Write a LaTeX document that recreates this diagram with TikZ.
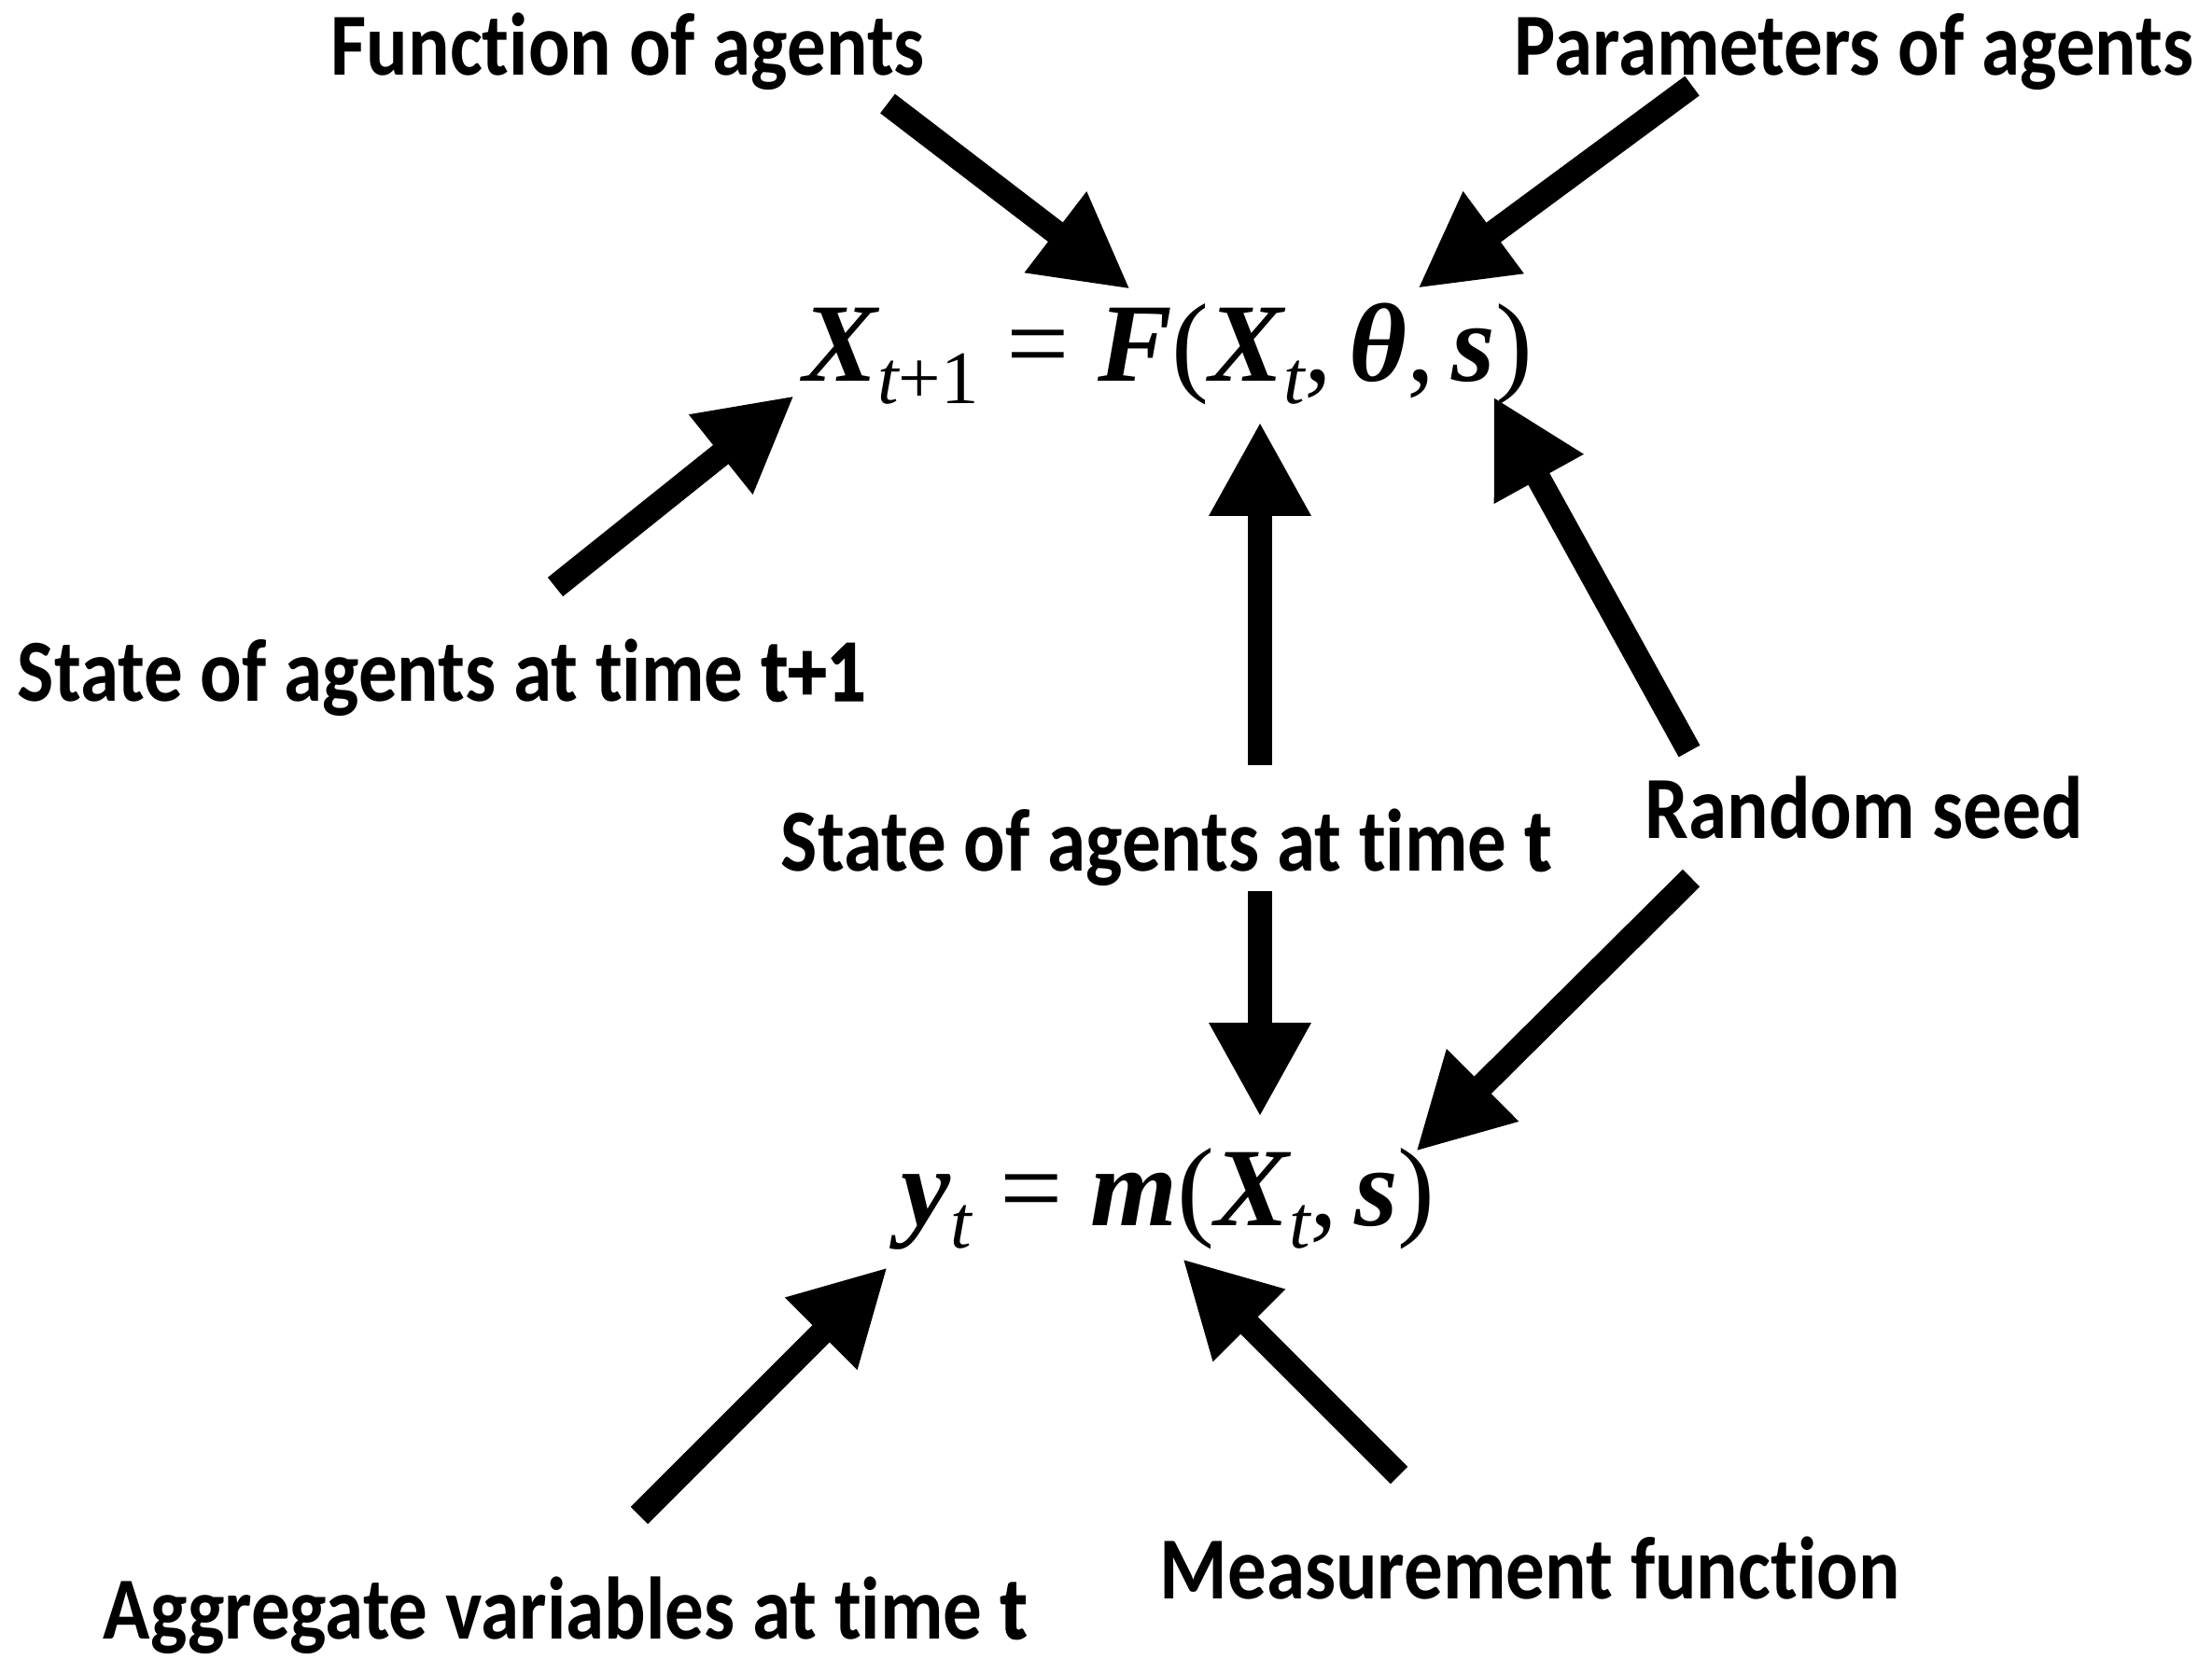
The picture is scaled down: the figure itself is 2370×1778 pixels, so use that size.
\documentclass[tikz,border=0pt]{standalone}
\usepackage{fontspec}
\usetikzlibrary{arrows.meta}
\newfontfamily\lblfont{Carlito}[Ligatures=NoCommon]
\newfontfamily\heavyfont{Carlito}[Ligatures=NoCommon, BoldFeatures={FakeBold=1.5}]
\newfontfamily\eqfont{Liberation Serif}
\newcommand{\bi}[1]{{\bfseries\itshape #1}}
\newcommand{\eqsub}[1]{\raisebox{-7pt}{\fontsize{23}{23}\selectfont\mdseries #1}}
\newcommand{\hv}[1]{{\heavyfont\bfseries #1}}
\newcommand{\nar}[1]{\scalebox{0.875}[1]{#1}}
\tikzset{
  lbl/.style={inner sep=0pt, anchor=base west, font=\lblfont\bfseries\fontsize{27}{32}\selectfont},
  eq/.style={inner sep=0pt, anchor=base west, font=\eqfont\fontsize{34}{40}\selectfont},
  arr/.style={line width=7.4pt, -{Triangle[length=28.7pt,width=29pt]}}
}
\begin{document}
\begin{tikzpicture}[x=0.01cm, y=-0.01cm]
	\useasboundingbox (0,0) rectangle (2370,1778);
	
	\node[eq] (eqx) at (860,408) {\bi{X}\eqsub{\itshape t\upshape +1} = \bi{F}(\bi{X}\eqsub{\itshape t},\hspace{0.15em}\bi{θ},\hspace{0.15em}\bi{s})};
	\node[eq] (eqy) at (965,1313) {\bi{y}\eqsub{\itshape t} = \bi{m}(\bi{X}\eqsub{\itshape t},\hspace{0.15em}\bi{s})};
	
	\node[lbl] (fun) at (354,80) {\nar{Function of agents}};
	\node[lbl] (par) at (1622,80) {\nar{Parameters of agents}};
	\node[lbl] (st1) at (18,751) {\nar{State of agents at time \hv{t+1}}};
	\node[lbl] (stt) at (836,933) {\nar{State of agents at time \hv{t}}};
	\node[lbl] (rnd) at (1762,898) {\nar{Random seed}};
	\node[lbl] (mea) at (1242,1713) {\nar{Measurement function}};
	\node[lbl] (agg) at (110,1756) {\nar{Aggregate variables at time \hv{t}}};
	
	\coordinate (funA) at (951,111);
	\coordinate (funB) at (1211,310);
	\coordinate (parA) at (1813,92);
	\coordinate (parB) at (1519,309);
	\coordinate (st1A) at (595,629);
	\coordinate (st1B) at (851,424);
	\coordinate (sttA) at (1350,820);
	\coordinate (sttB) at (1350,452);
	\coordinate (sttC) at (1350,955);
	\coordinate (sttD) at (1350,1197);
	\coordinate (rndA) at (1810,805);
	\coordinate (rndB) at (1600,425);
	\coordinate (rndC) at (1812,941);
	\coordinate (rndD) at (1517,1234);
	\coordinate (aggA) at (685,1624);
	\coordinate (aggB) at (951,1358);
	\coordinate (meaA) at (1499,1581);
	\coordinate (meaB) at (1267,1349);
	
	\draw[arr] (funA) -- (funB);
	\draw[arr] (parA) -- (parB);
	\draw[arr] (st1A) -- (st1B);
	\draw[arr] (sttA) -- (sttB);
	\draw[arr] (sttC) -- (sttD);
	\draw[arr] (rndA) -- (rndB);
	\draw[arr] (rndC) -- (rndD);
	\draw[arr] (aggA) -- (aggB);
	\draw[arr] (meaA) -- (meaB);
\end{tikzpicture}
\end{document}
